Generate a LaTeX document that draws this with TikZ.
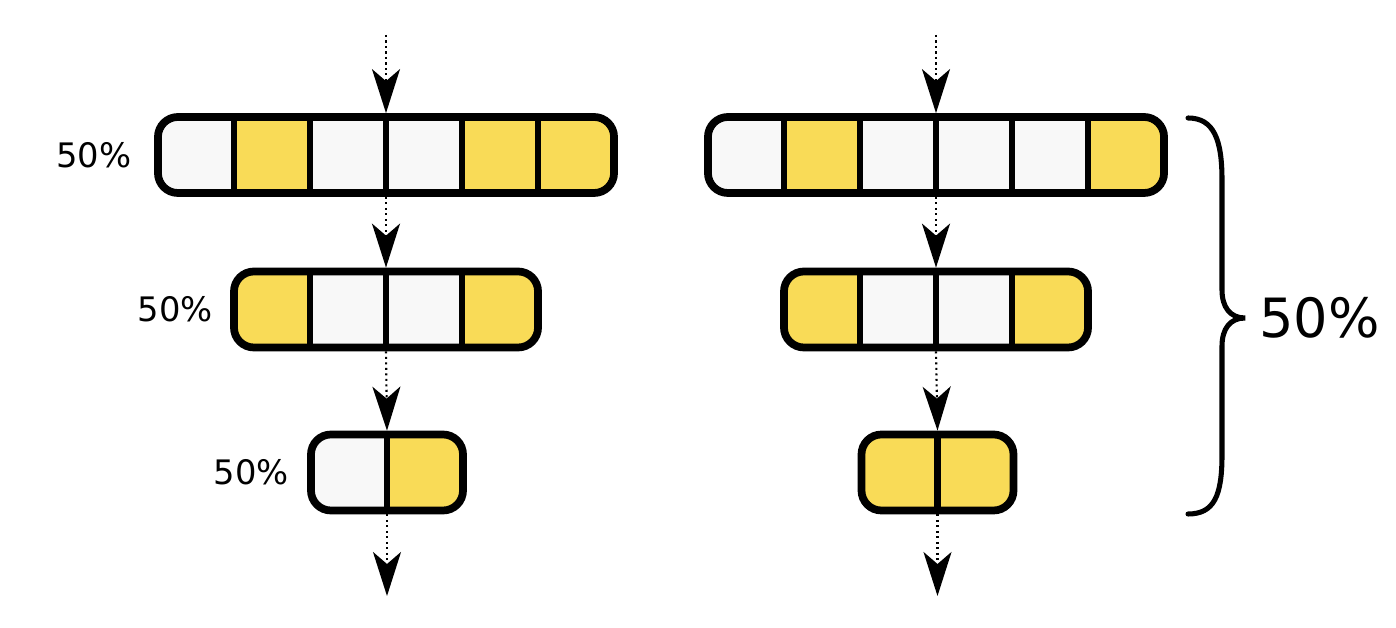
\documentclass[tikz,border=0pt]{standalone}
\usepackage{fontspec}
\setmainfont{DejaVu Sans}
\usetikzlibrary{arrows.meta,positioning}

\definecolor{paper}{RGB}{248,248,248}
\definecolor{amber}{RGB}{249,219,87}

% a row of square cells inside a rounded frame
% #1 name, #2 centre x, #3 centre y, #4 number of cells, #5 cell colours
\newcommand\cellbar[5]{%
  \begin{scope}
    \clip[rounded corners=0.5cm] ({#2-#4*38},{#3-38}) rectangle ({#2+#4*38},{#3+38});
    \foreach \c [count=\i from 0] in {#5} {
      \fill[\c] ({#2-#4*38+\i*76},{#3-38}) rectangle ++(76,76);
    }
  \end{scope}
  \pgfmathtruncatemacro\lastdiv{#4-1}
  \foreach \i in {1,...,\lastdiv} {
    \draw[divider] ({#2-#4*38+\i*76},{#3-38}) -- ++(0,76);
  }
  \node[barframe, minimum width={#4*1.9cm}] (#1) at (#2,#3) {};
}

\tikzset{
  barframe/.style={draw, line width=5.5pt, rounded corners=0.5cm,
    minimum height=1.9cm, inner sep=0pt},
  divider/.style={line width=4.3pt},
  flow/.style={line width=1.5pt, dash pattern=on 1.5pt off 2.4pt,
    -{Stealth[length=1.1cm, width=0.7cm, inset=0.3cm]}},
  pct/.style={font=\fontsize{24}{28}\selectfont, inner sep=0pt},
  bigpct/.style={font=\fontsize{38.5}{46}\selectfont, inner sep=0pt},
  bracket/.style={line width=3.6pt, line cap=round},
}

\begin{document}
\begin{tikzpicture}[x=0.025cm, y=-0.025cm]
  \useasboundingbox (0,0) rectangle (1396,628);

  % left column
  \cellbar{L1}{386}{155}{6}{paper,amber,paper,paper,amber,amber}
  \cellbar{L2}{386}{309.5}{4}{amber,paper,paper,amber}
  \cellbar{L3}{387}{472.5}{2}{paper,amber}

  % right column
  \cellbar{R1}{936}{155}{6}{paper,amber,paper,paper,paper,amber}
  \cellbar{R2}{936}{309.5}{4}{amber,paper,paper,amber}
  \cellbar{R3}{937.5}{472.5}{2}{amber,amber}

  % flow arrows
  \coordinate (Ltop) at (386,35);
  \coordinate (Lend) at (387,596);
  \coordinate (Rtop) at (936,35);
  \coordinate (Rend) at (937.5,596);
  \draw[flow] (Ltop) -- (L1.north);
  \draw[flow] (L1.south) -- (L2.north);
  \draw[flow] (L2.south) -- (L3.north);
  \draw[flow] (L3.south) -- (Lend);
  \draw[flow] (Rtop) -- (R1.north);
  \draw[flow] (R1.south) -- (R2.north);
  \draw[flow] (R2.south) -- (R3.north);
  \draw[flow] (R3.south) -- (Rend);

  % rates
  \node[pct, left=0.56cm of L1] (p1) {50\%};
  \node[pct, left=0.42cm of L2] (p2) {50\%};
  \node[pct, left=0.45cm of L3] (p3) {50\%};

  % brace on the right
  \draw[bracket] (1188,118) .. controls (1214,118) and (1222,140) .. (1222,180)
    -- (1222,290) .. controls (1222,307) and (1230,318) .. (1245,318)
    .. controls (1230,318) and (1222,329) .. (1222,346)
    -- (1222,455) .. controls (1222,496) and (1214,514) .. (1188,514);
  \node[bigpct, anchor=west] (ptotal) at (1259,318) {50\%};
\end{tikzpicture}
\end{document}
